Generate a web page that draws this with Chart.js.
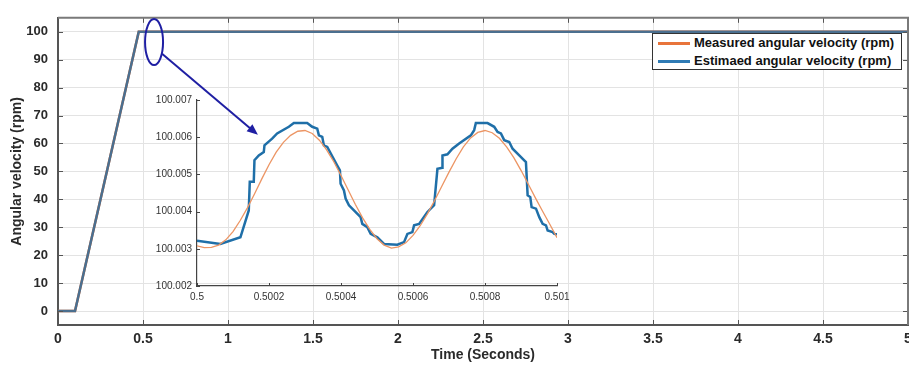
<!DOCTYPE html>
<html lang="en">
<head>
    <meta charset="UTF-8">
    <title>Angular velocity</title>
    <script src="https://cdn.jsdelivr.net/npm/chart.js"></script>
    <style>
        body {
            margin: 0;
            padding: 0;
            background: #fff;
            font-family: "Liberation Sans", Arial, sans-serif;
        }
        #wrap {
            position: relative;
            width: 909px;
            height: 370px;
            overflow: hidden;
        }
        #main-chart {
            position: absolute;
            left: 0;
            top: 0;
        }
        #inset-chart {
            position: absolute;
            left: 130px;
            top: 90px;
        }
        .legend-box {
            position: absolute;
            left: 652px;
            top: 33px;
            width: 248px;
            height: 35px;
            border: 1px solid #333;
            background: #fff;
            font-weight: bold;
            font-size: 13px;
            color: #111;
        }
        .legend-row {
            position: absolute;
            left: 5px;
            height: 16px;
            line-height: 16px;
            display: flex;
            align-items: center;
            white-space: nowrap;
        }
        .swatch {
            display: inline-block;
            width: 32px;
            height: 3px;
            margin-right: 4px;
        }
    </style>
</head>
<body>
    <div id="wrap">
        <canvas id="main-chart" width="909" height="370"></canvas>
        <canvas id="inset-chart" width="450" height="215"></canvas>
        <div class="legend-box">
            <div class="legend-row" style="top:1px"><span class="swatch" style="background:#e8743b"></span>Measured angular velocity (rpm)</div>
            <div class="legend-row" style="top:19px"><span class="swatch" style="background:#2f7bb5"></span>Estimaed angular velocity (rpm)</div>
        </div>
    </div>

    <script>
        // main plot data
        const mainTime = [0, 0.1, 0.475, 5];
        const measuredMain = [0, 0, 100, 100];
        const estimatedMain = [0, 0, 100, 100];
        const mainXTicks = [0, 0.5, 1, 1.5, 2, 2.5, 3, 3.5, 4, 4.5, 5];
        const mainXLabels = ['0', '0.5', '1', '1.5', '2', '2.5', '3', '3.5', '4', '4.5', '5'];
        const mainYTicks = [0, 10, 20, 30, 40, 50, 60, 70, 80, 90, 100];

        // zoomed inset data
        const insetMeasuredTime = [
            0.5, 0.50002, 0.50004, 0.50006, 0.50008, 0.5001, 0.50012, 0.50014, 0.50016, 0.50018,
            0.5002, 0.50022, 0.50024, 0.50026, 0.50028, 0.5003, 0.50032, 0.50034, 0.50036, 0.50038,
            0.5004, 0.50042, 0.50044, 0.50046, 0.50048, 0.5005, 0.50052, 0.50054, 0.50056, 0.50058,
            0.5006, 0.50062, 0.50064, 0.50066, 0.50068, 0.5007, 0.50072, 0.50074, 0.50076, 0.50078,
            0.5008, 0.50082, 0.50084, 0.50086, 0.50088, 0.5009, 0.50092, 0.50094, 0.50096, 0.50098,
            0.501
        ];
        const insetMeasured = [
            100.00308, 100.00303, 100.00304, 100.0031, 100.00324, 100.00346, 100.00376, 100.0041, 100.00448, 100.00488,
            100.00526, 100.0056, 100.00586, 100.00605, 100.00616, 100.00618, 100.0061, 100.00592, 100.00566, 100.00534,
            100.00497, 100.00458, 100.00419, 100.00383, 100.00352, 100.00327, 100.0031, 100.00302, 100.00305, 100.00316,
            100.00336, 100.00362, 100.00394, 100.0043, 100.00468, 100.00506, 100.00542, 100.00574, 100.00598, 100.00613,
            100.00618, 100.00612, 100.00597, 100.00574, 100.00545, 100.00511, 100.00474, 100.00437, 100.00401, 100.00366,
            100.0033
        ];
        const insetEstimatedTime = [
            0.5, 0.5000649, 0.5001206, 0.5001438, 0.5001466, 0.5001577, 0.5001596, 0.5001716, 0.5001855, 0.5001874,
            0.5002087, 0.5002226, 0.5002551, 0.500269, 0.5003061, 0.50032, 0.500334, 0.5003386, 0.5003479, 0.5003525,
            0.5003618, 0.5003896, 0.500397, 0.5003989, 0.5004082, 0.5004128, 0.5004221, 0.500436, 0.5004545, 0.5004592,
            0.5004731, 0.5004824, 0.5005009, 0.5005195, 0.5005566, 0.5005751, 0.5005844, 0.5005983, 0.500603, 0.5006169,
            0.5006401, 0.5006586, 0.5006679, 0.5006818, 0.5006819, 0.5006957, 0.5007096, 0.5007282, 0.5007607, 0.5007699,
            0.5007746, 0.5008071, 0.5008256, 0.5008349, 0.5008442, 0.5008534, 0.5008673, 0.5008766, 0.5008952, 0.5009137,
            0.5009184, 0.5009258, 0.5009295, 0.5009416, 0.5009508, 0.5009601, 0.5009694, 0.500974, 0.5009879, 0.5009926,
            0.501
        ];
        const insetEstimated = [
            100.00322, 100.00313, 100.00331, 100.00403, 100.0048, 100.0048, 100.00538, 100.00551, 100.0056, 100.00578,
            100.00596, 100.0061, 100.00628, 100.00638, 100.00638, 100.00628, 100.00623, 100.00605, 100.00601, 100.00578,
            100.00574, 100.00524, 100.00511, 100.00475, 100.00457, 100.00435, 100.00417, 100.00403, 100.00385, 100.00367,
            100.00358, 100.0034, 100.00331, 100.00313, 100.00311, 100.00318, 100.0034, 100.00345, 100.00363, 100.00367,
            100.00399, 100.00417, 100.00515, 100.00518, 100.00551, 100.00554, 100.00569, 100.00583, 100.00605, 100.00619,
            100.00638, 100.00638, 100.00628, 100.00614, 100.0061, 100.00592, 100.00587, 100.00569, 100.00551, 100.00533,
            100.00444, 100.00439, 100.00412, 100.00408, 100.00385, 100.00367, 100.00363, 100.00349, 100.00345, 100.0034,
            100.00339
        ];
        const insetXTicks = [0.5, 0.5002, 0.5004, 0.5006, 0.5008, 0.501];
        const insetXLabels = ['0.5', '0.5002', '0.5004', '0.5006', '0.5008', '0.501'];
        const insetYTicks = [100.002, 100.003, 100.004, 100.005, 100.006, 100.007];
        const insetYLabels = ['100.002', '100.003', '100.004', '100.005', '100.006', '100.007'];

        // zoom marker (data coords of main plot)
        const zoomMark = { x: 0.565, y: 96.3 };
        const arrowFrom = { x: 0.612, y: 92.1 };
        const arrowTo = { x: 1.176, y: 63.1 };

        const toPoints = (xs, ys) => xs.map((x, i) => ({ x: x, y: ys[i] }));

        // MATLAB-style inward ticks and box
        const matlabAxes = {
            id: 'matlabAxes',
            afterDraw(chart, args, opts) {
                const { ctx, chartArea: a, scales } = chart;
                const len = opts.tickLen || 4;
                ctx.save();
                ctx.strokeStyle = opts.color || '#555';
                ctx.lineWidth = 1;
                ctx.beginPath();
                scales.x.ticks.forEach(t => {
                    const px = Math.round(scales.x.getPixelForValue(t.value)) + 0.5;
                    ctx.moveTo(px, a.bottom);
                    ctx.lineTo(px, a.bottom - len);
                    if (opts.box) {
                        ctx.moveTo(px, a.top);
                        ctx.lineTo(px, a.top + len);
                    }
                });
                scales.y.ticks.forEach(t => {
                    const py = Math.round(scales.y.getPixelForValue(t.value)) + 0.5;
                    ctx.moveTo(a.left, py);
                    ctx.lineTo(a.left + len, py);
                    if (opts.box) {
                        ctx.moveTo(a.right, py);
                        ctx.lineTo(a.right - len, py);
                    }
                });
                ctx.stroke();
                if (opts.box) {
                    ctx.strokeStyle = '#7a7a7a';
                    ctx.lineWidth = 2;
                    ctx.beginPath();
                    ctx.moveTo(a.left, a.top);
                    ctx.lineTo(a.right, a.top);
                    ctx.lineTo(a.right, a.bottom);
                    ctx.stroke();
                }
                ctx.restore();
            }
        };

        // ellipse round the zoomed spot and arrow to the inset
        const zoomArrow = {
            id: 'zoomArrow',
            afterDraw(chart) {
                const { ctx, scales: { x, y } } = chart;
                const cx = x.getPixelForValue(zoomMark.x);
                const cy = y.getPixelForValue(zoomMark.y);
                const x1 = x.getPixelForValue(arrowFrom.x), y1 = y.getPixelForValue(arrowFrom.y);
                const x2 = x.getPixelForValue(arrowTo.x), y2 = y.getPixelForValue(arrowTo.y);
                ctx.save();
                ctx.strokeStyle = '#1f1fa3';
                ctx.fillStyle = '#1f1fa3';
                ctx.lineWidth = 2;
                ctx.beginPath();
                ctx.ellipse(cx, cy, 9, 23, 0, 0, Math.PI * 2);
                ctx.stroke();
                const ang = Math.atan2(y2 - y1, x2 - x1);
                ctx.beginPath();
                ctx.moveTo(x1, y1);
                ctx.lineTo(x2 - 6 * Math.cos(ang), y2 - 6 * Math.sin(ang));
                ctx.stroke();
                ctx.beginPath();
                ctx.moveTo(x2, y2);
                ctx.lineTo(x2 - 11 * Math.cos(ang) + 4.5 * Math.sin(ang), y2 - 11 * Math.sin(ang) - 4.5 * Math.cos(ang));
                ctx.lineTo(x2 - 11 * Math.cos(ang) - 4.5 * Math.sin(ang), y2 - 11 * Math.sin(ang) + 4.5 * Math.cos(ang));
                ctx.closePath();
                ctx.fill();
                ctx.restore();
            }
        };

        const boldFont = size => ({ family: '"Liberation Sans", Arial, sans-serif', size: size, weight: 'bold' });

        // Main chart
        new Chart(document.getElementById('main-chart'), {
            type: 'line',
            data: {
                datasets: [
                    {
                        label: 'Measured angular velocity (rpm)',
                        data: toPoints(mainTime, measuredMain),
                        borderColor: '#e8743b',
                        borderWidth: 2.5,
                        pointRadius: 0,
                        order: 2
                    },
                    {
                        label: 'Estimaed angular velocity (rpm)',
                        data: toPoints(mainTime, estimatedMain),
                        borderColor: '#4b6f8f',
                        borderWidth: 2.5,
                        pointRadius: 0,
                        order: 1
                    }
                ]
            },
            options: {
                responsive: false,
                animation: false,
                layout: { padding: { top: 10, right: 1, left: 0, bottom: 0 } },
                plugins: {
                    legend: { display: false },
                    tooltip: { enabled: false },
                    matlabAxes: { box: true, tickLen: 5, color: '#555' }
                },
                scales: {
                    x: {
                        type: 'linear',
                        min: 0,
                        max: 5,
                        afterBuildTicks: s => { s.ticks = mainXTicks.map(v => ({ value: v })); },
                        afterFit: s => { s.height = 45; s.paddingLeft = 0; s.paddingRight = 0; },
                        ticks: {
                            callback: (v, i) => mainXLabels[i],
                            font: boldFont(14),
                            color: '#2a2a2a',
                            padding: 6,
                            maxRotation: 0,
                            autoSkip: false
                        },
                        grid: { color: '#e3e3e3', drawTicks: false },
                        border: { color: '#555', width: 2 },
                        title: {
                            display: true,
                            text: 'Time (Seconds)',
                            font: boldFont(14),
                            color: '#2a2a2a',
                            padding: { top: 0, bottom: 6 }
                        }
                    },
                    y: {
                        type: 'linear',
                        min: -5,
                        max: 105,
                        afterBuildTicks: s => { s.ticks = mainYTicks.map(v => ({ value: v })); },
                        afterFit: s => { s.width = 58; },
                        ticks: {
                            font: boldFont(13),
                            color: '#2a2a2a',
                            padding: 10,
                            autoSkip: false
                        },
                        grid: { color: '#e3e3e3', drawTicks: false },
                        border: { color: '#555', width: 2 },
                        title: {
                            display: true,
                            text: 'Angular velocity (rpm)',
                            font: boldFont(14),
                            color: '#2a2a2a',
                            padding: { top: 9, bottom: 0 }
                        }
                    }
                }
            },
            plugins: [matlabAxes, zoomArrow]
        });

        // Inset chart
        const smallFont = { family: '"Liberation Sans", Arial, sans-serif', size: 10 };
        new Chart(document.getElementById('inset-chart'), {
            type: 'line',
            data: {
                datasets: [
                    {
                        label: 'Measured angular velocity (rpm)',
                        data: toPoints(insetMeasuredTime, insetMeasured),
                        borderColor: '#ec9564',
                        borderWidth: 1.3,
                        pointRadius: 0,
                        order: 1
                    },
                    {
                        label: 'Estimaed angular velocity (rpm)',
                        data: toPoints(insetEstimatedTime, insetEstimated),
                        borderColor: '#1f6fa8',
                        borderWidth: 2.5,
                        pointRadius: 0,
                        order: 2
                    }
                ]
            },
            options: {
                responsive: false,
                animation: false,
                layout: { padding: { top: 10, right: 23, left: 0, bottom: 0 } },
                plugins: {
                    legend: { display: false },
                    tooltip: { enabled: false },
                    matlabAxes: { box: false, tickLen: 3, color: '#444' }
                },
                scales: {
                    x: {
                        type: 'linear',
                        min: 0.5,
                        max: 0.501,
                        afterBuildTicks: s => { s.ticks = insetXTicks.map(v => ({ value: v })); },
                        afterFit: s => { s.height = 19; s.paddingLeft = 0; s.paddingRight = 0; },
                        ticks: {
                            callback: (v, i) => insetXLabels[i],
                            font: smallFont,
                            color: '#333',
                            padding: 5,
                            maxRotation: 0,
                            autoSkip: false
                        },
                        grid: { display: false, drawTicks: false },
                        border: { color: '#444', width: 1.2 }
                    },
                    y: {
                        type: 'linear',
                        min: 100.002,
                        max: 100.007,
                        afterBuildTicks: s => { s.ticks = insetYTicks.map(v => ({ value: v })); },
                        afterFit: s => { s.width = 67; s.paddingTop = 0; s.paddingBottom = 0; },
                        ticks: {
                            callback: (v, i) => insetYLabels[i],
                            font: smallFont,
                            color: '#333',
                            padding: 5,
                            autoSkip: false
                        },
                        grid: { display: false, drawTicks: false },
                        border: { color: '#444', width: 1.2 }
                    }
                }
            },
            plugins: [matlabAxes]
        });
    </script>
</body>
</html>
